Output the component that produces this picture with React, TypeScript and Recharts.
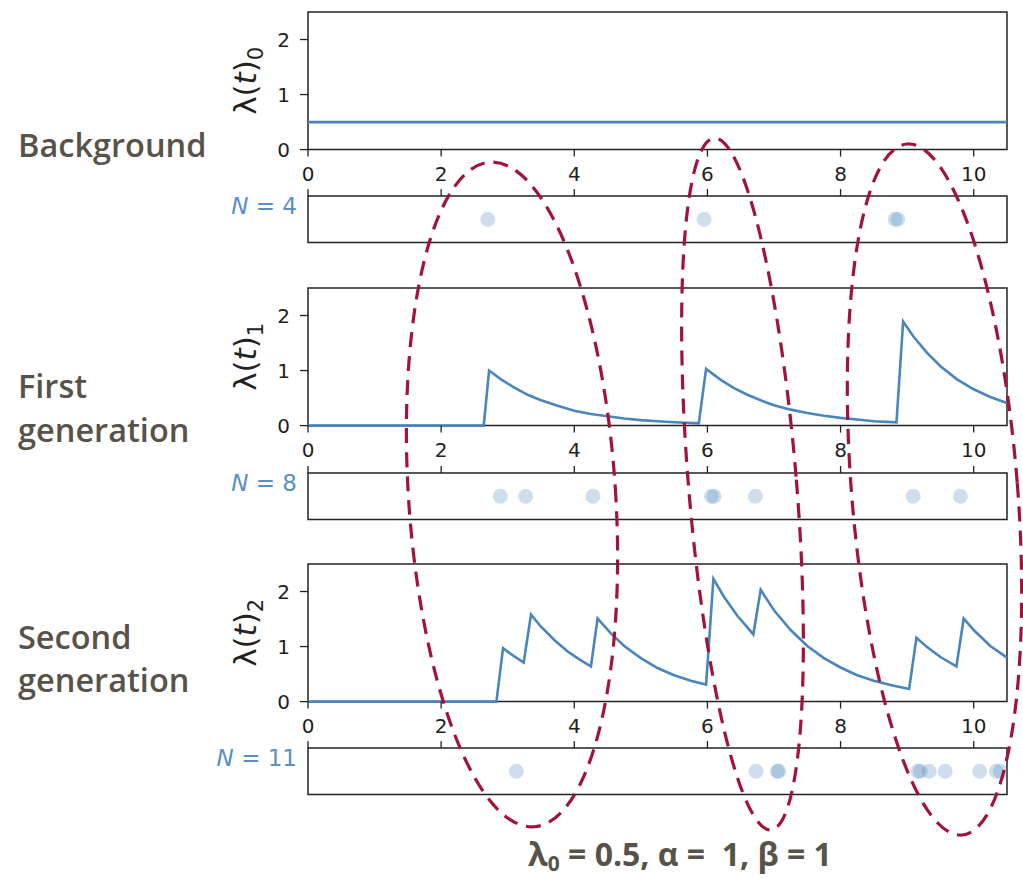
import React from 'react';
import { LineChart, Line, XAxis, YAxis, ScatterChart, Scatter, ReferenceArea } from 'recharts';

const xTicks = [0, 2, 4, 6, 8, 10];
const yTicks = [0, 1, 2];

// event times
const backgroundEvents = [2.7, 5.95, 8.82, 8.86];
const firstGenEvents = [2.89, 3.27, 4.28, 6.06, 6.1, 6.72, 9.09, 9.8];
const secondGenEvents = [3.13, 6.73, 7.05, 7.07, 9.16, 9.2, 9.33, 9.57, 10.09, 10.34, 10.4];

// intensity curves, [t, lambda]
const lambda0: [number, number][] = [[0, 0.5], [10.5, 0.5]];

const lambda1: [number, number][] = [
  [0, 0], [2.64, 0], [2.72, 1.0], [2.9, 0.84], [3.1, 0.69], [3.3, 0.56], [3.5, 0.46],
  [3.75, 0.36], [4.0, 0.27], [4.25, 0.21], [4.5, 0.17], [4.75, 0.13], [5.0, 0.1],
  [5.25, 0.08], [5.5, 0.06], [5.87, 0.04], [5.98, 1.03], [6.2, 0.83], [6.4, 0.68],
  [6.6, 0.56], [6.8, 0.46], [7.0, 0.37], [7.25, 0.29], [7.5, 0.23], [7.75, 0.18],
  [8.0, 0.14], [8.25, 0.11], [8.5, 0.08], [8.84, 0.06], [8.94, 1.89], [9.1, 1.61],
  [9.3, 1.32], [9.5, 1.08], [9.75, 0.84], [10.0, 0.66], [10.25, 0.52], [10.5, 0.41],
];

const lambda2: [number, number][] = [
  [0, 0], [2.83, 0], [2.93, 0.97], [3.1, 0.82], [3.24, 0.71], [3.35, 1.58], [3.5, 1.36],
  [3.7, 1.12], [3.9, 0.91], [4.1, 0.75], [4.25, 0.64], [4.35, 1.51], [4.55, 1.24],
  [4.75, 1.01], [5.0, 0.79], [5.25, 0.61], [5.5, 0.48], [5.75, 0.38], [5.98, 0.31],
  [6.09, 2.23], [6.25, 1.9], [6.45, 1.56], [6.69, 1.22], [6.8, 2.03], [7.0, 1.66],
  [7.25, 1.3], [7.5, 1.01], [7.75, 0.79], [8.0, 0.62], [8.25, 0.48], [8.5, 0.38],
  [8.75, 0.3], [9.03, 0.23], [9.14, 1.16], [9.3, 0.99], [9.5, 0.81], [9.74, 0.64],
  [9.85, 1.51], [10.0, 1.3], [10.25, 1.01], [10.5, 0.8],
];

const W = 1023;
const PLOT_LEFT = 308;
const PLOT_RIGHT = 1007;
const PANEL_H = 137.6;
const STRIP_H = 46.5;
const BLUE = '#4a85bb';
const INK = '#222';
const LABEL = '#57534a';
const RED = '#a3123a';

const panels = [
  { key: 'bg', data: lambda0, events: backgroundEvents, sub: '0', top: 11.7, stripTop: 196 },
  { key: 'g1', data: lambda1, events: firstGenEvents, sub: '1', top: 288.3, stripTop: 472.6 },
  { key: 'g2', data: lambda2, events: secondGenEvents, sub: '2', top: 563.6, stripTop: 748 },
];

const ellipses = [
  { cx: 512, cy: 494.5, rx: 103.5, ry: 333, rot: -3.8 },
  { cx: 742.5, cy: 484, rx: 54, ry: 347, rot: -4.7 },
  { cx: 934.5, cy: 489.5, rx: 83, ry: 346.6, rot: -4.55 },
];

const tickFont = { fontSize: 20, fill: INK, fontFamily: 'DejaVu Sans' };

function LambdaLabel(props: any) {
  const vb = props.viewBox || {};
  const cy = (vb.y ?? 10) + (vb.height ?? PANEL_H) / 2;
  return (
    <text
      transform={`translate(256, ${cy}) rotate(-90)`}
      textAnchor="middle"
      fontFamily="DejaVu Sans"
      fontSize={31}
      fill={INK}
    >
      <tspan>λ(</tspan>
      <tspan fontStyle="italic">t</tspan>
      <tspan>)</tspan>
      <tspan fontSize={21} dy={7}>{props.sub}</tspan>
    </text>
  );
}

function IntensityPanel({ data, sub, top }: { data: [number, number][]; sub: string; top: number }) {
  const rows = data.map(([t, v]) => ({ t, v }));
  return (
    <div style={{ position: 'absolute', left: 0, top: top - 10 }}>
      <LineChart
        width={W}
        height={10 + PANEL_H + 42}
        data={rows}
        margin={{ top: 10, right: W - PLOT_RIGHT, bottom: 0, left: 0 }}
      >
        <XAxis
          dataKey="t"
          type="number"
          domain={[0, 10.5]}
          ticks={xTicks}
          height={42}
          tickSize={7}
          tickMargin={10}
          axisLine={false}
          tick={tickFont}
          tickLine={{ stroke: INK, strokeWidth: 1.3 }}
        />
        <YAxis
          type="number"
          domain={[0, 2.5]}
          ticks={yTicks}
          width={PLOT_LEFT}
          tickSize={8}
          tickMargin={10}
          axisLine={false}
          tick={tickFont}
          tickLine={{ stroke: INK, strokeWidth: 1.3 }}
          label={<LambdaLabel sub={sub} />}
        />
        <ReferenceArea x1={0} x2={10.5} y1={0} y2={2.5} fill="none" stroke={INK} strokeWidth={1.5} />
        <Line
          dataKey="v"
          type="linear"
          stroke={BLUE}
          strokeWidth={2.6}
          dot={false}
          isAnimationActive={false}
        />
      </LineChart>
    </div>
  );
}

const EventDot = (p: any) => <circle cx={p.cx} cy={p.cy} r={7.5} fill={BLUE} fillOpacity={0.27} />;

function EventStrip({ events, top }: { events: number[]; top: number }) {
  const rows = events.map((t) => ({ t, y: 0 }));
  return (
    <div style={{ position: 'absolute', left: 0, top: top - 10 }}>
      <ScatterChart
        width={W}
        height={10 + STRIP_H + 2}
        margin={{ top: 2, right: W - PLOT_RIGHT, bottom: 2, left: 0 }}
      >
        <XAxis
          orientation="top"
          dataKey="t"
          type="number"
          domain={[0, 10.5]}
          ticks={xTicks}
          height={8}
          tickSize={7}
          axisLine={false}
          tick={() => <g />}
          tickLine={{ stroke: INK, strokeWidth: 1.3 }}
        />
        <YAxis dataKey="y" type="number" domain={[-1, 1]} width={PLOT_LEFT} tick={false} axisLine={false} tickLine={false} />
        <ReferenceArea x1={0} x2={10.5} y1={-1} y2={1} fill="none" stroke={INK} strokeWidth={1.5} />
        <Scatter data={rows} dataKey="y" shape={EventDot} isAnimationActive={false} />
      </ScatterChart>
    </div>
  );
}

export default function App() {
  const textFont = { fontFamily: 'Open Sans', fontWeight: 600, fill: LABEL };
  return (
    <div style={{ position: 'absolute', left: 0, top: 0, width: W, height: 878, background: '#fff', overflow: 'hidden' }}>
      {panels.map((p) => (
        <React.Fragment key={p.key}>
          <IntensityPanel data={p.data} sub={p.sub} top={p.top} />
          <EventStrip events={p.events} top={p.stripTop} />
        </React.Fragment>
      ))}
      <svg width={W} height={878} style={{ position: 'absolute', left: 0, top: 0, pointerEvents: 'none' }}>
        <g fontSize={32.5} {...textFont}>
          <text x={18} y={157}>Background</text>
          <text x={18} y={398}>First</text>
          <text x={18} y={442}>generation</text>
          <text x={18} y={649}>Second</text>
          <text x={18} y={692}>generation</text>
        </g>
        {panels.map((p) => (
          <text
            key={p.key}
            x={297}
            y={p.stripTop + 18}
            textAnchor="end"
            fontFamily="DejaVu Sans"
            fontSize={23}
            fill="#5b8fc4"
          >
            <tspan fontStyle="italic">N</tspan>
            <tspan>{` = ${p.events.length}`}</tspan>
          </text>
        ))}
        {ellipses.map((e, i) => (
          <ellipse
            key={i}
            cx={e.cx}
            cy={e.cy}
            rx={e.rx}
            ry={e.ry}
            transform={`rotate(${e.rot} ${e.cx} ${e.cy})`}
            fill="none"
            stroke={RED}
            strokeWidth={3.2}
            strokeDasharray="15 9"
          />
        ))}
        <text x={528} y={866} fontSize={32} style={{ whiteSpace: 'pre' }} {...textFont} fontWeight={700}>
          <tspan>λ</tspan>
          <tspan fontSize={21} dy={5}>0</tspan>
          <tspan dy={-5}>{' = 0.5, α =  1, β = 1'}</tspan>
        </text>
      </svg>
    </div>
  );
}
